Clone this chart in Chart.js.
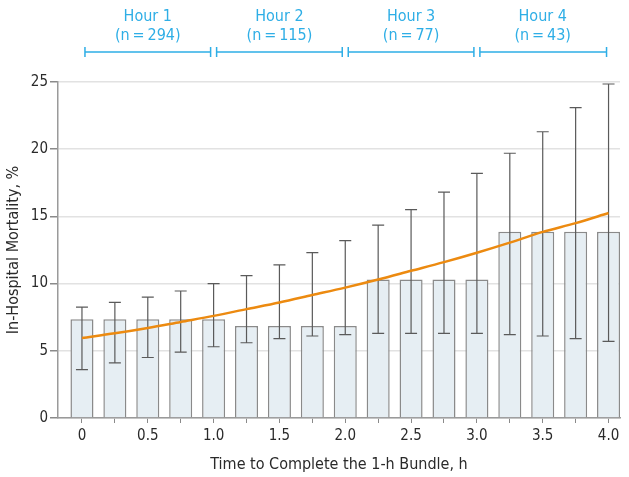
<!DOCTYPE html>
<html>
<head>
<meta charset="utf-8">
<script src="https://cdn.jsdelivr.net/npm/chart.js@4"></script>
<style>
  html, body { margin: 0; padding: 0; background: #fff; }
  #wrap { width: 629px; height: 477px; }
</style>
</head>
<body>
<div id="wrap"><canvas id="mortalityChart" width="629" height="477"></canvas></div>
<script>
// Time to complete bundle (h) for each bar
const hours = [0, 0.25, 0.5, 0.75, 1.0, 1.25, 1.5, 1.75, 2.0, 2.25, 2.5, 2.75, 3.0, 3.25, 3.5, 3.75, 4.0];
// Observed in-hospital mortality, %
const mortality = [7.35, 7.35, 7.35, 7.35, 7.35, 6.85, 6.85, 6.85, 6.85, 10.3, 10.3, 10.3, 10.3, 13.85, 13.85, 13.85, 13.85];
// 95% CI
const ciLower = [3.6, 4.1, 4.5, 4.9, 5.3, 5.6, 5.9, 6.1, 6.2, 6.3, 6.3, 6.3, 6.3, 6.2, 6.1, 5.9, 5.7];
const ciUpper = [8.25, 8.6, 9.0, 9.45, 10.0, 10.6, 11.4, 12.3, 13.2, 14.35, 15.5, 16.8, 18.2, 19.7, 21.3, 23.1, 24.85];
// Fitted (modeled) mortality
const fitted = [5.95, 6.3, 6.7, 7.15, 7.6, 8.1, 8.6, 9.15, 9.7, 10.3, 10.95, 11.6, 12.3, 13.05, 13.85, 14.5, 15.25];

// Hour groups across the top
const hourLabels = ["Hour 1", "Hour 2", "Hour 3", "Hour 4"];
const hourCounts = [294, 115, 77, 43];
const hourBounds = [0, 1, 2, 3, 4];

const FONT = "'DejaVu Sans Condensed', 'Liberation Sans Narrow', sans-serif";
const TEXT = "#2a2a2a";
const BLUE = "#2eaee6";

// Draw the CI whiskers right after the bars, so the curve lies on top
const errorBars = {
  id: "errorBars",
  afterDatasetDraw(chart, args) {
    if (args.index !== 0) return;
    const { ctx, scales: { x, y } } = chart;
    ctx.save();
    ctx.strokeStyle = "#5a5a5a";
    ctx.lineWidth = 1.2;
    hours.forEach((h, i) => {
      const px = x.getPixelForValue(h);
      const top = y.getPixelForValue(ciUpper[i]);
      const bot = y.getPixelForValue(ciLower[i]);
      ctx.beginPath();
      ctx.moveTo(px, top); ctx.lineTo(px, bot);
      ctx.moveTo(px - 6, top); ctx.lineTo(px + 6, top);
      ctx.moveTo(px - 6, bot); ctx.lineTo(px + 6, bot);
      ctx.stroke();
    });
    ctx.restore();
  }
};

// Hour brackets and labels above the plot
const hourBrackets = {
  id: "hourBrackets",
  afterDraw(chart) {
    const { ctx, scales: { x } } = chart;
    const yLine = 52;
    ctx.save();
    ctx.strokeStyle = BLUE;
    ctx.fillStyle = BLUE;
    ctx.lineWidth = 1.5;
    ctx.textAlign = "center";
    ctx.textBaseline = "middle";
    ctx.font = "16px " + FONT;
    for (let i = 0; i < hourLabels.length; i++) {
      let x0 = x.getPixelForValue(hourBounds[i]);
      let x1 = x.getPixelForValue(hourBounds[i + 1]);
      if (i > 0) x0 += 3; else x0 += 3;
      if (i < hourLabels.length - 1) x1 -= 3; else x1 -= 2;
      ctx.beginPath();
      ctx.moveTo(x0, yLine); ctx.lineTo(x1, yLine);
      ctx.moveTo(x0, yLine - 5); ctx.lineTo(x0, yLine + 5);
      ctx.moveTo(x1, yLine - 5); ctx.lineTo(x1, yLine + 5);
      ctx.stroke();
      const mid = x.getPixelForValue((hourBounds[i] + hourBounds[i + 1]) / 2);
      ctx.fillText(hourLabels[i], mid, 17);
      ctx.fillText("(n\u2009=\u2009" + hourCounts[i] + ")", mid, 36);
    }
    ctx.restore();
  }
};

new Chart(document.getElementById("mortalityChart"), {
  data: {
    datasets: [
      {
        type: "bar",
        label: "Observed",
        data: hours.map((h, i) => ({ x: h, y: mortality[i] })),
        backgroundColor: "#e6eef3",
        borderColor: "#8a8a8a",
        borderWidth: 1.5,
        barPercentage: 0.7,
        categoryPercentage: 1.0,
        order: 1
      },
      {
        type: "line",
        label: "Fitted",
        data: hours.map((h, i) => ({ x: h, y: fitted[i] })),
        borderColor: "#ec8a10",
        borderWidth: 2.5,
        pointRadius: 0,
        cubicInterpolationMode: "monotone",
        fill: false,
        order: 0
      }
    ]
  },
  options: {
    responsive: false,
    animation: false,
    layout: { padding: { top: 82, right: 9, left: 0, bottom: 0 } },
    plugins: {
      legend: { display: false },
      tooltip: { enabled: false }
    },
    scales: {
      x: {
        type: "linear",
        min: -0.182,
        max: 4.087,
        offset: false,
        afterFit: scale => { scale.height = 59; },
        border: { color: "#9a9a9a", width: 1.5 },
        grid: { drawOnChartArea: false, offset: false, tickLength: 5, color: "#8a8a8a" },
        ticks: {
          stepSize: 0.25,
          includeBounds: false,
          autoSkip: false,
          maxRotation: 0,
          padding: 4,
          color: TEXT,
          font: { family: FONT, size: 15 },
          callback: v => {
            if (Math.abs(v * 2 - Math.round(v * 2)) > 1e-6) return "";
            return v === 0 ? "0" : v.toFixed(1);
          }
        },
        title: {
          display: true,
          text: "Time to Complete the 1-h Bundle, h",
          color: TEXT,
          font: { family: FONT, size: 16 },
          padding: { top: 0, bottom: 3 }
        }
      },
      y: {
        min: 0,
        max: 25,
        afterFit: scale => { scale.width = 58; },
        border: { color: "#9a9a9a", width: 1.5 },
        grid: { color: "#e2e2e2", lineWidth: 1.5, tickLength: 8, tickColor: "#8a8a8a" },
        ticks: {
          stepSize: 5,
          padding: 2,
          color: TEXT,
          font: { family: FONT, size: 15 }
        },
        title: {
          display: true,
          text: "In-Hospital Mortality, %",
          color: TEXT,
          font: { family: FONT, size: 16 },
          padding: { top: 4, bottom: 0 }
        }
      }
    }
  },
  plugins: [errorBars, hourBrackets]
});
</script>
</body>
</html>
